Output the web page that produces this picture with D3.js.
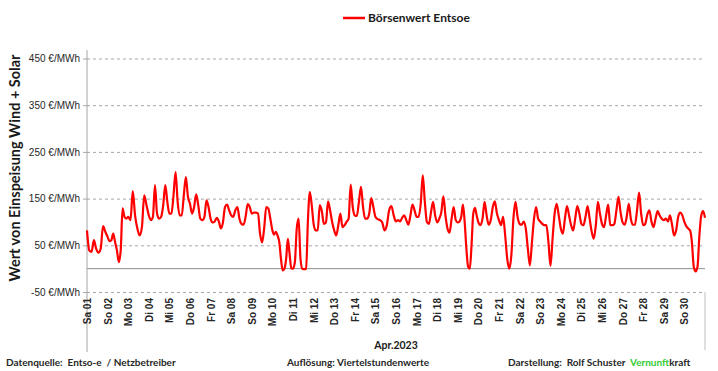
<!DOCTYPE html>
<meta charset="utf-8">
<head>
	<style>
		html, body { margin: 0; padding: 0; background: white; }
		svg { display: block; font-family: Lato, "Open Sans", sans-serif; }
		.grid line { stroke: #a6a6a6; stroke-dasharray: 3,3; }
		.grid path { display: none; }
		.axis--y text { font-size: 10px; fill: #262626; }
		.axis--x text { font-size: 10px; font-weight: bold; fill: #262626; }
		.foot { font-size: 10px; font-weight: bold; fill: #262626; }
	</style>
	<script src="https://d3js.org/d3.v7.min.js"></script>
</head>
<body>
	<script>

	// DATA  (EUR/MWh, readings spread evenly over each day)
	var dayLabels = ["Sa 01","So 02","Mo 03","Di 04","Mi 05","Do 06","Fr 07","Sa 08","So 09","Mo 10",
		"Di 11","Mi 12","Do 13","Fr 14","Sa 15","So 16","Mo 17","Di 18","Mi 19","Do 20",
		"Fr 21","Sa 22","So 23","Mo 24","Di 25","Mi 26","Do 27","Fr 28","Sa 29","So 30"];

	var dayValues = [
		[82, 39, 36, 61, 43, 34, 43, 91, 79],
		[68, 59, 61, 75, 57, 39, 14, 39, 129, 111, 107],
		[111, 104, 166, 114, 86, 71, 89, 157, 136],
		[114, 104, 111, 179, 118, 107, 111, 136, 179, 143],
		[118, 118, 157, 207, 143, 114, 114, 157, 196, 154],
		[139, 118, 132, 159, 136, 107, 104, 111, 146, 132],
		[107, 99, 101, 109, 101, 86, 99, 132, 137, 125],
		[114, 111, 125, 132, 107, 96, 94, 111, 138, 132],
		[118, 120, 120, 118, 75, 56, 86, 132, 129, 107],
		[82, 73, 79, 71, 57, 21, -4, 0, 21, 64, 32, 1],
		[0, 14, 86, 107, 21, 0, -1, 0, 107, 164, 136],
		[96, 82, 82, 136, 123, 96, 99, 144, 125, 100],
		[82, 71, 93, 118, 89, 93, 100, 107, 180, 132],
		[114, 113, 143, 175, 132, 107, 107, 118, 151, 132],
		[111, 106, 104, 99, 82, 93, 125, 134, 114],
		[101, 104, 101, 109, 114, 104, 94, 114, 137, 125],
		[111, 111, 139, 200, 143, 100, 96, 121, 143, 114],
		[99, 107, 121, 155, 114, 86, 77, 107, 132, 104],
		[99, 101, 111, 137, 100, 43, 4, 0, 50, 118, 130, 114],
		[99, 93, 107, 143, 114, 94, 104, 132, 144, 118],
		[104, 93, 111, 71, 21, 0, 29, 107, 143, 111],
		[96, 94, 101, 86, 43, 7, 57, 107, 132, 107],
		[101, 96, 93, 93, 57, 6, 64, 118, 139, 114],
		[86, 75, 107, 134, 114, 93, 82, 107, 134, 118],
		[96, 93, 111, 134, 107, 79, 64, 93, 143, 118],
		[96, 89, 114, 137, 93, 93, 96, 125, 154, 121],
		[99, 94, 111, 139, 107, 94, 94, 125, 163, 118],
		[93, 96, 116, 125, 101, 89, 107, 123, 114, 107],
		[104, 107, 101, 114, 94, 71, 82, 111, 120, 114],
		[100, 91, 86, 82, 57, 4, -6, 4, 71, 114, 123]
	];
	var lastValue = 109;

	var yTicks = [-50, 50, 150, 250, 350, 450];

	// SETUP
	var width = 718, height = 371,
		margin = { top: 58.5, right: 13, bottom: 79, left: 87 },
		dayMs = 864e5,
		start = new Date(2023, 3, 1);

	var series = [];
	dayValues.forEach(function(vals, d) {
		vals.forEach(function(v, i) {
			series.push({ t: new Date(+start + (d + i / vals.length) * dayMs), v: v });
		});
	});
	series.push({ t: new Date(+start + 30 * dayMs), v: lastValue });

	var x = d3.scaleTime()
		.domain([start, new Date(+start + 30 * dayMs)])
		.range([margin.left, width - margin.right]);

	var y = d3.scaleLinear()
		.domain([-50, 450])
		.range([height - margin.bottom, margin.top]);

	var svg = d3.select('body').append('svg')
		.attr('width', width)
		.attr('height', height);

	// gridlines
	svg.append('g')
		.attr('class', 'grid')
		.attr('transform', 'translate(' + margin.left + ',0)')
		.call(d3.axisLeft(y).tickValues(yTicks).tickSize(-(width - margin.left - margin.right)).tickFormat(''));

	// zero line
	svg.append('line')
		.attr('x1', margin.left).attr('x2', width - margin.right)
		.attr('y1', y(0)).attr('y2', y(0))
		.attr('stroke', '#8c8c8c').attr('stroke-width', 1);

	// y axis
	var yAxis = svg.append('g')
		.attr('class', 'axis--y')
		.attr('transform', 'translate(' + margin.left + ',0)')
		.call(d3.axisLeft(y).tickValues(yTicks).tickSize(4).tickPadding(3)
			.tickFormat(function(d) { return d + ' €/MWh'; }));
	yAxis.select('.domain').remove();
	yAxis.selectAll('.tick line').attr('stroke', '#a6a6a6');
	yAxis.selectAll('.tick text')
		.attr('fill', function(d) { return d < 0 ? '#ff0000' : '#262626'; });

	// left vertical axis line and right border
	svg.append('line')
		.attr('x1', margin.left).attr('x2', margin.left)
		.attr('y1', 50).attr('y2', 352)
		.attr('stroke', '#a6a6a6');
	svg.append('line')
		.attr('x1', width - margin.right).attr('x2', width - margin.right)
		.attr('y1', y(-50)).attr('y2', 350)
		.attr('stroke', '#bfbfbf');

	// x axis with day labels
	var dayTicks = dayLabels.map(function(l, i) { return new Date(+start + i * dayMs); });
	var xAxis = svg.append('g')
		.attr('class', 'axis--x')
		.attr('transform', 'translate(0,' + (y(-50) + 6) + ')')
		.call(d3.axisBottom(x).tickValues(dayTicks).tickSize(0)
			.tickFormat(function(d, i) { return dayLabels[i]; }));
	xAxis.select('.domain').remove();
	xAxis.selectAll('.tick text')
		.attr('transform', 'rotate(-90)')
		.attr('text-anchor', 'end')
		.attr('x', 0)
		.attr('y', 0)
		.attr('dy', '0.35em');

	// the line
	var line = d3.line()
		.x(function(d) { return x(d.t); })
		.y(function(d) { return y(d.v); })
		.curve(d3.curveMonotoneX);

	svg.append('path')
		.datum(series)
		.attr('fill', 'none')
		.attr('stroke', '#ff0000')
		.attr('stroke-width', 2.2)
		.attr('stroke-linejoin', 'round')
		.attr('d', line);

	// y title
	svg.append('text')
		.attr('transform', 'translate(20,' + 168 + ') rotate(-90)')
		.attr('text-anchor', 'middle')
		.attr('font-size', '14.5px')
		.attr('font-weight', 'bold')
		.attr('fill', '#1a1a1a')
		.text('Wert von Einspeisung Wind + Solar');

	// legend
	svg.append('line')
		.attr('x1', 343).attr('x2', 365)
		.attr('y1', 18).attr('y2', 18)
		.attr('stroke', '#ff0000').attr('stroke-width', 2.5);
	svg.append('text')
		.attr('x', 368).attr('y', 22)
		.attr('font-size', '12px').attr('font-weight', 'bold')
		.attr('fill', '#1a1a1a')
		.text('Börsenwert Entsoe');

	// month label
	svg.append('text')
		.attr('x', 396).attr('y', 349)
		.attr('text-anchor', 'middle')
		.attr('font-size', '10.5px').attr('font-weight', 'bold')
		.attr('fill', '#1a1a1a')
		.text('Apr.2023');

	// footer
	svg.append('text').attr('class', 'foot')
		.attr('x', 6).attr('y', 366)
		.attr('xml:space', 'preserve')
		.text('Datenquelle:  Entso-e  / Netzbetreiber');
	svg.append('text').attr('class', 'foot')
		.attr('x', 287).attr('y', 366)
		.text('Auflösung: Viertelstundenwerte');
	var credit = svg.append('text').attr('class', 'foot')
		.attr('x', 508).attr('y', 366)
		.attr('xml:space', 'preserve');
	credit.append('tspan').text('Darstellung:  Rolf Schuster');
	credit.append('tspan').attr('x', 630).attr('fill', '#33cc33').text('Vernunft');
	credit.append('tspan').text('kraft');

	</script>
</body>
